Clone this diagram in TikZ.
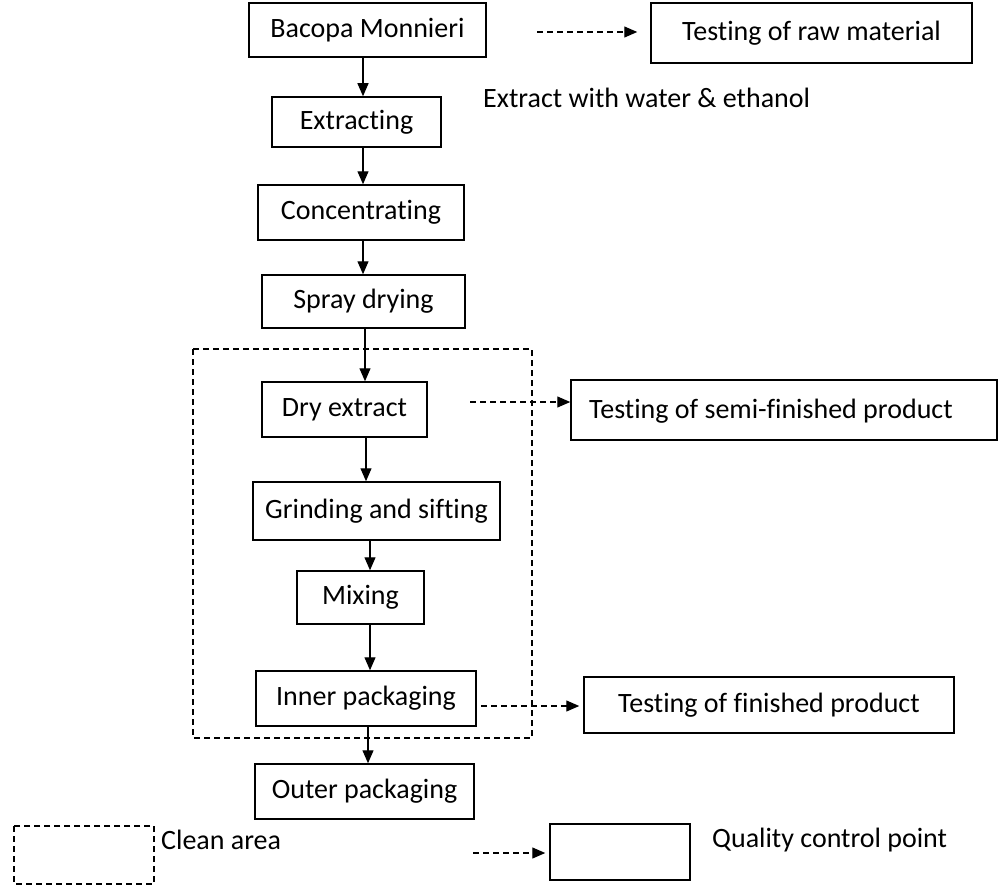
\documentclass[tikz,border=0pt]{standalone}
\usepackage{fontspec}
\setmainfont{Carlito}[Ligatures=NoCommon]
\usetikzlibrary{arrows.meta}
\begin{document}
\begin{tikzpicture}[x=1pt,y=-1pt,
  box/.style={draw,line width=1.5pt,inner sep=0pt,font=\fontsize{28}{32}\selectfont},
  lbl/.style={inner sep=0pt,anchor=west,font=\fontsize{28}{32}\selectfont},
  flow/.style={-{Triangle[length=13pt,width=11pt]},line width=1.2pt},
  qc/.style={dash pattern=on 6pt off 4pt,-{Triangle[length=13pt,width=11pt]},line width=1.2pt},
  area/.style={draw,dash pattern=on 6pt off 4pt,line width=1.4pt}]
\useasboundingbox (0,0) rectangle (998,888);
% process boxes
\node[box,minimum width=237pt,minimum height=54pt] (bac) at (367.5,30) {Bacopa Monnieri};
\node[box,minimum width=321pt,minimum height=60pt] (raw) at (811.5,33) {Testing of raw material};
\node[lbl] (ext) at (483,98) {Extract with water \& ethanol};
\node[box,minimum width=169pt,minimum height=50pt] (extr) at (356.5,122) {Extracting};
\node[box,minimum width=206pt,minimum height=55pt] (conc) at (361,212.5) {Concentrating};
\node[box,minimum width=203pt,minimum height=53pt] (spray) at (363.5,301.5) {Spray drying};
\node[box,minimum width=165pt,minimum height=55pt] (dry) at (344.5,409.5) {Dry extract};
\node[box,minimum width=426pt,minimum height=60pt] (semi) at (784,410) {};
\node[lbl] (semil) at (589,411) {Testing of semi-finished product};
\node[box,minimum width=247pt,minimum height=58pt] (grind) at (376.5,511) {Grinding and sifting};
\node[box,minimum width=127pt,minimum height=53pt] (mix) at (360.5,597.5) {Mixing};
\node[box,minimum width=220pt,minimum height=55pt] (inner) at (366,698.5) {Inner packaging};
\node[box,minimum width=370pt,minimum height=56pt] (fin) at (769,705) {Testing of finished product};
\node[box,minimum width=219pt,minimum height=55pt] (outer) at (364.5,791.5) {Outer packaging};
% clean area
\draw[area] (193,349) rectangle (532,738);
% legend
\draw[area] (14,826) rectangle (154,884);
\node[lbl] (cl) at (161,840) {Clean area};
\node[box,minimum width=140pt,minimum height=56pt] (qbox) at (620,852) {};
\node[lbl] (ql) at (712,840) {Quality control point};
% columns for vertical arrows
\coordinate (k1) at (363,0);
\coordinate (k2) at (365,0);
\coordinate (k3) at (366,0);
\coordinate (k4) at (370,0);
\coordinate (k5) at (368,0);
\draw[flow] (bac.south -| k1) -- (extr.north -| k1);
\draw[flow] (extr.south -| k1) -- (conc.north -| k1);
\draw[flow] (conc.south -| k1) -- (spray.north -| k1);
\draw[flow] (spray.south -| k2) -- (dry.north -| k2);
\draw[flow] (dry.south -| k3) -- (grind.north -| k3);
\draw[flow] (grind.south -| k4) -- (mix.north -| k4);
\draw[flow] (mix.south -| k4) -- (inner.north -| k4);
\draw[flow] (inner.south -| k5) -- (outer.north -| k5);
% quality control arrows
\coordinate (q1) at (537,32);
\draw[qc,shorten >=13pt] (q1) -- (q1 -| raw.west);
\coordinate (q2) at (470,402);
\draw[qc] (q2) -- (q2 -| semi.west);
\coordinate (q3) at (481,706);
\draw[qc,shorten >=4pt] (q3) -- (q3 -| fin.west);
\coordinate (q4) at (473,853);
\draw[qc,shorten >=4pt] (q4) -- (q4 -| qbox.west);
\end{tikzpicture}
\end{document}
